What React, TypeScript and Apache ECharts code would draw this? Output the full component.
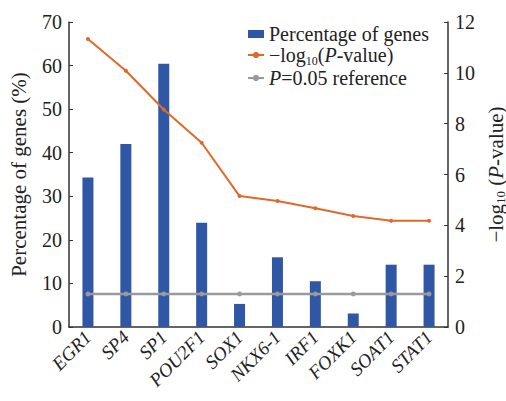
import React, { useEffect, useRef } from "react";
import * as echarts from "echarts";

const categories = ["EGR1", "SP4", "SP1", "POU2F1", "SOX1", "NKX6-1", "IRF1", "FOXK1", "SOAT1", "STAT1"];
const percentGenes = [34.3, 42.0, 60.4, 23.9, 5.3, 16.0, 10.5, 3.1, 14.3, 14.3];
const negLogP = [11.33, 10.08, 8.56, 7.25, 5.15, 4.96, 4.67, 4.37, 4.18, 4.18];
const refValue = 1.301;
const refLine = categories.map(() => refValue);
const leftTicks = [0, 70, 10];
const rightTicks = [0, 12, 2];

const FONT = "'Liberation Serif', 'DejaVu Serif', serif";

export default function App() {
  const ref = useRef<HTMLDivElement>(null);
  useEffect(() => {
    if (!ref.current) return;
    const chart = echarts.init(ref.current, null, { renderer: "svg" });
    const rich = {
      sub: { fontSize: 12, fontFamily: FONT, color: "#222", padding: [12, 0, 0, 0] },
      i: { fontStyle: "italic", fontSize: 20, fontFamily: FONT, color: "#222" },
      n: { fontSize: 20, fontFamily: FONT, color: "#222" },
    };
    const richName = {
      sub: { fontSize: 13, fontFamily: FONT, color: "#222", padding: [9, 0, 0, 0] },
      i: { fontStyle: "italic", fontSize: 21, fontFamily: FONT, color: "#222" },
      n: { fontSize: 21, fontFamily: FONT, color: "#222" },
    };
    const names = ["Percentage of genes", "\u2212log10(P-value)", "P=0.05 reference"];
    chart.setOption({
      animation: false,
      backgroundColor: "#fff",
      grid: { left: 69, right: 58, top: 22, bottom: 74, outerBoundsMode: "none", containLabel: false },
      legend: {
        orient: "vertical",
        left: 242,
        top: 19,
        itemGap: 1,
        itemWidth: 16,
        itemHeight: 8,
        data: [
          { name: names[0], icon: "rect" },
          { name: names[1] },
          { name: names[2] },
        ],
        formatter: (name: string) => {
          if (name === names[0]) return "{n|Percentage of genes}";
          if (name === names[1]) return "{n|\u2212log}{sub|10}{n|(}{i|P}{n|-value)}";
          return "{i|P}{n|=0.05 reference}";
        },
        textStyle: { fontFamily: FONT, fontSize: 20, color: "#222", rich },
      },
      xAxis: {
        type: "category",
        data: categories,
        axisLine: { lineStyle: { color: "#333", width: 1.5 } },
        axisTick: { show: false },
        axisLabel: {
          rotate: 45,
          interval: 0,
          fontFamily: FONT,
          fontStyle: "italic",
          fontSize: 19,
          color: "#222",
          margin: 7,
        },
      },
      yAxis: [
        {
          type: "value",
          min: leftTicks[0],
          max: leftTicks[1],
          interval: leftTicks[2],
          position: "left",
          name: "Percentage of genes (%)",
          nameLocation: "middle",
          nameGap: 40,
          nameTextStyle: { fontFamily: FONT, fontSize: 21, color: "#222" },
          axisLine: { show: true, lineStyle: { color: "#333", width: 1.5 } },
          axisTick: { show: true, inside: true, length: 4, lineStyle: { color: "#333" } },
          axisLabel: { fontFamily: FONT, fontSize: 20, color: "#222", margin: 7 },
          splitLine: { show: false },
        },
        {
          type: "value",
          min: rightTicks[0],
          max: rightTicks[1],
          interval: rightTicks[2],
          position: "right",
          name: "{n|\u2212log}{sub|10}{n| (}{i|P}{n|-value)}",
          nameLocation: "middle",
          nameGap: 27,
          nameTextStyle: { fontFamily: FONT, fontSize: 21, color: "#222", rich: richName },
          axisLine: { show: true, lineStyle: { color: "#333", width: 1.5 } },
          axisTick: { show: true, inside: true, length: 4, lineStyle: { color: "#333" } },
          axisLabel: { fontFamily: FONT, fontSize: 20, color: "#222", margin: 7 },
          splitLine: { show: false },
        },
      ],
      series: [
        {
          name: names[0],
          type: "bar",
          data: percentGenes,
          yAxisIndex: 0,
          barWidth: 11,
          itemStyle: { color: "#2f57a5" },
        },
        {
          name: names[1],
          type: "line",
          data: negLogP,
          yAxisIndex: 1,
          symbol: "circle",
          symbolSize: 4,
          lineStyle: { color: "#e0692a", width: 2 },
          itemStyle: { color: "#e0692a" },
        },
        {
          name: names[2],
          type: "line",
          data: refLine,
          yAxisIndex: 1,
          symbol: "circle",
          symbolSize: 5,
          lineStyle: { color: "#9a9a9a", width: 2.5 },
          itemStyle: { color: "#9a9a9a" },
        },
      ],
    });
    return () => chart.dispose();
  }, []);
  return (
    <div
      ref={ref}
      style={{ position: "fixed", left: 0, top: 0, width: 506, height: 401 }}
    />
  );
}
